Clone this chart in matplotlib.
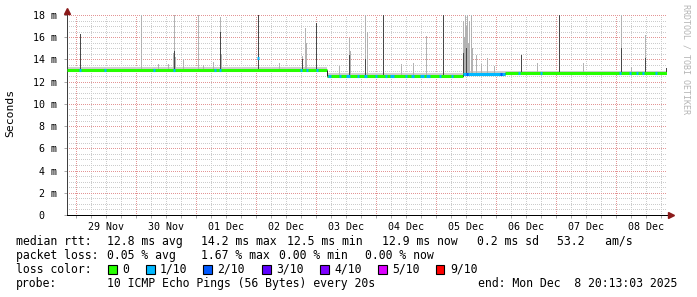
import numpy as np
import matplotlib
matplotlib.use('Agg')
import matplotlib.pyplot as plt

# time axis: days since 29 Nov 00:00, graph ends Mon Dec 8 20:13:03
t_start = -0.1575
t_end = 9.8425
day_labels = ['29 Nov', '30 Nov', '01 Dec', '02 Dec', '03 Dec',
              '04 Dec', '05 Dec', '06 Dec', '07 Dec', '08 Dec']

# median rtt (ms), piecewise levels
seg_start = [-0.1575, 4.176, 6.443, 7.143]
seg_end = [4.176, 6.443, 7.143, 9.8425]
seg_median = [13.05, 12.50, 12.70, 12.74]

# smoke spikes: day, top of light smoke (ms), top of dark smoke (ms, 0 = none)
spike_day = [0.059, 1.084, 1.359, 1.526, 1.609, 1.626, 1.643, 1.776, 2.026, 2.109,
             2.276, 2.393, 2.409, 3.026, 3.376, 3.759, 3.809, 3.826, 3.993, 4.376,
             4.543, 4.559, 4.809, 4.843, 5.109, 5.409, 5.609, 5.826, 6.109, 6.443,
             6.459, 6.476, 6.493, 6.509, 6.526, 6.543, 6.576, 6.593, 6.659, 6.743,
             6.843, 6.959, 7.409, 7.676, 8.043, 8.443, 9.076, 9.243, 9.476, 9.826]
spike_top = [16.3, 18.5, 13.6, 13.6, 14.6, 18.5, 14.2, 14.0, 18.5, 13.5,
             13.8, 17.8, 14.5, 18.5, 13.7, 14.3, 16.8, 15.5, 17.3, 13.4,
             15.9, 14.8, 18.5, 16.5, 18.5, 13.6, 13.7, 16.1, 18.5, 17.5,
             16.0, 18.5, 17.0, 18.5, 15.5, 17.5, 18.5, 15.0, 14.4, 13.6,
             14.1, 13.4, 14.4, 13.7, 18.5, 13.7, 18.5, 13.3, 16.2, 13.2]
spike_dark = [16.3, 0, 0, 0, 0, 14.8, 0, 0, 0, 0,
              0, 16.5, 0, 18.5, 0, 14.0, 0, 0, 17.3, 0,
              14.4, 0, 14.0, 0, 18.5, 0, 0, 0, 18.5, 14.6,
              0, 0, 15.0, 0, 0, 0, 0, 0, 0, 0,
              0, 0, 14.4, 0, 18.5, 0, 15.0, 0, 14.1, 13.2]

# packet loss marks on the median line: from day, to day, ms, loss of 10
loss_from = [0.043, 0.459, 1.276, 1.609, 2.293, 2.376, 3.009, 3.726, 3.826, 3.993,
             4.193, 4.376, 4.493, 4.676, 4.793, 4.976, 5.143, 5.226, 5.476, 5.576,
             5.726, 5.826, 6.043, 6.243, 6.443, 6.493, 7.059, 7.359, 7.726, 9.043,
             9.209, 9.326, 9.426, 9.643]
loss_to = [0.076, 0.493, 1.309, 1.643, 2.326, 2.409, 3.043, 3.759, 3.859, 4.026,
           4.243, 4.409, 4.559, 4.709, 4.843, 5.009, 5.176, 5.293, 5.509, 5.626,
           5.793, 5.893, 6.076, 6.276, 7.143, 6.526, 7.093, 7.393, 7.759, 9.076,
           9.243, 9.359, 9.459, 9.676]
loss_ms = [13.05, 13.05, 13.05, 13.05, 13.05, 13.05, 14.1, 13.05, 13.05, 13.05,
           12.5, 12.5, 12.5, 12.5, 12.5, 12.5, 12.5, 12.5, 12.5, 12.5,
           12.5, 12.5, 12.5, 12.5, 12.70, 12.70, 12.70, 12.74, 12.74, 12.74,
           12.74, 12.74, 12.74, 12.74]
loss_count = [1, 1, 1, 1, 1, 1, 1, 1, 1, 1,
              1, 1, 1, 1, 1, 1, 1, 1, 1, 1,
              1, 1, 1, 1, 1, 2, 2, 1, 1, 1,
              1, 1, 1, 1]

loss_names = ['0', '1/10', '2/10', '3/10', '4/10', '5/10', '9/10']
loss_colors = ['#26ff00', '#00b8ff', '#0059ff', '#5e00ff', '#7e00ff', '#dd00ff', '#ff0000']

W, H = 697, 297
fig = plt.figure(figsize=(W / 100, H / 100), dpi=100)
fig.patch.set_facecolor('white')
ax = fig.add_axes([67 / W, 82 / H, 600 / W, 200 / H])
ax.set_xlim(t_start, t_end)
ax.set_ylim(0, 18)

# grid, minor grey / major red, dotted
px = 0.72
dots = (0, (1, 2))
minor_x = np.arange(0, 10, 0.25)
ax.vlines(minor_x, 0, 18, colors='#cccccc', lw=px, linestyles=dots, antialiased=False, zorder=0)
ax.hlines(np.arange(0.5, 18.1, 0.5), t_start, t_end, colors='#cccccc', lw=px,
          linestyles=dots, antialiased=False, zorder=0)
ax.vlines(np.arange(0, 10), 0, 18, colors='#e39595', lw=px, linestyles=dots,
          antialiased=False, zorder=0.5)
ax.hlines(np.arange(2, 18.1, 2), t_start, t_end, colors='#e39595', lw=px,
          linestyles=dots, antialiased=False, zorder=0.5)

# smoke band around median
for s0, s1, m in zip(seg_start, seg_end, seg_median):
    ax.fill_between([s0, s1], m - 0.15, m + 0.25, color='#cfcfcf', lw=0, zorder=1)

# smoke spikes
def median_at(d):
    i = np.searchsorted(seg_end, d)
    return seg_median[min(i, len(seg_median) - 1)]

base = [median_at(d) for d in spike_day]
ax.vlines(spike_day, base, spike_top, colors='#b2b2b2', lw=px, antialiased=False, zorder=2)
dark_day = [d for d, k in zip(spike_day, spike_dark) if k > 0]
dark_base = [b for b, k in zip(base, spike_dark) if k > 0]
dark_top = [k for k in spike_dark if k > 0]
ax.vlines(dark_day, dark_base, dark_top, colors='#484848', lw=px, antialiased=False, zorder=3)

# median line colored by loss
ax.hlines(seg_median, seg_start, seg_end, colors=loss_colors[0], lw=2.2, zorder=4)
ax.vlines(seg_end[:-1], seg_median[1:], seg_median[:-1], colors='#222222', lw=px, zorder=4)
ax.hlines(loss_ms, loss_from, loss_to, colors=[loss_colors[c] for c in loss_count],
          lw=2.2, zorder=5)

# axes and ticks
for s in ['top', 'right']:
    ax.spines[s].set_visible(False)
ax.spines['left'].set_color('#404040')
ax.spines['bottom'].set_color('black')
ax.spines['left'].set_linewidth(px)
ax.spines['bottom'].set_linewidth(px)
ax.plot([1, 1.008], [0, 0], transform=ax.transAxes, color='black', lw=px, clip_on=False)
ax.plot([0, 0], [1, 1.02], transform=ax.transAxes, color='#404040', lw=px, clip_on=False)
ax.plot(1.007, 0, marker='>', ms=4, color='#8b1a1a', mec='#8b1a1a',
        transform=ax.transAxes, clip_on=False, zorder=6)
ax.plot(0, 1.02, marker='^', ms=4, color='#8b1a1a', mec='#8b1a1a',
        transform=ax.transAxes, clip_on=False, zorder=6)

ax.set_xticks(np.arange(10) + 0.5, day_labels)
ax.xaxis.remove_overlapping_locs = False
ax.set_xticks(minor_x, minor=True)
ax.tick_params(axis='x', which='major', length=0, pad=5)
ax.tick_params(axis='x', which='minor', length=2, color='#aaaaaa', width=px)
yt = np.arange(0, 19, 2)
ax.set_yticks(yt, ['0  '] + ['%d m' % v for v in yt[1:]])
ax.tick_params(axis='y', which='major', length=2, color='#aaaaaa', width=px, pad=5)
for lab in ax.get_xticklabels() + ax.get_yticklabels():
    lab.set_family('DejaVu Sans Mono')
    lab.set_fontsize(7.2)

mono = 'DejaVu Sans Mono'
fig.text(10 / W, 1 - 113 / H, 'Seconds', rotation=90, va='center', ha='center',
         family=mono, fontsize=8.2)
fig.text(686 / W, 1 - 4 / H, 'RRDTOOL / TOBI OETIKER', rotation=270, va='top',
         ha='center', family=mono, fontsize=6, color='#b4b4b4')

# legend lines
def put(x, y, s):
    fig.text(x / W, 1 - y / H, s, va='center', ha='left', family=mono, fontsize=8.3)

put(16, 241.5, 'median rtt:')
put(107, 241.5, '12.8 ms avg')
put(201, 241.5, '14.2 ms max')
put(287, 241.5, '12.5 ms min')
put(382, 241.5, '12.9 ms now')
put(477, 241.5, '0.2 ms sd')
put(557, 241.5, '53.2   am/s')

put(16, 255.5, 'packet loss:')
put(107, 255.5, '0.05 % avg')
put(201, 255.5, '1.67 % max')
put(279, 255.5, '0.00 % min')
put(365, 255.5, '0.00 % now')

put(16, 269.5, 'loss color:')
box_x = [108, 146, 203, 262, 320, 378, 436]
for bx, name, col in zip(box_x, loss_names, loss_colors):
    fig.patches.append(plt.Rectangle((bx / W, 1 - 273.5 / H), 8.5 / W, 8.5 / H,
                                     transform=fig.transFigure, facecolor=col,
                                     edgecolor='black', lw=0.8))
    put(bx + 14, 269.5, name)

put(16, 283.5, 'probe:')
put(107, 283.5, '10 ICMP Echo Pings (56 Bytes) every 20s')
put(478, 283.5, 'end: Mon Dec  8 20:13:03 2025')

fig.savefig('out.png', dpi=100, facecolor='white')
